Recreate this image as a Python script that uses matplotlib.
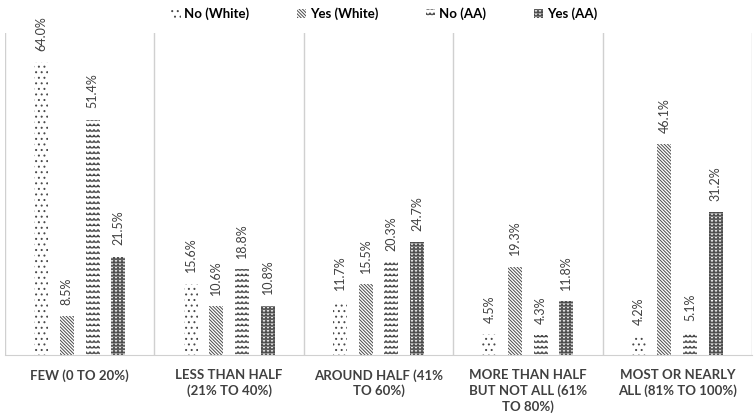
import warnings
import numpy as np
import matplotlib
matplotlib.use('Agg')
from matplotlib import pyplot as plt
import matplotlib.hatch as mhatch
from matplotlib.patches import Patch

warnings.filterwarnings('ignore')

categories = ['FEW (0 TO 20%)', 'LESS THAN HALF\n(21% TO 40%)', 'AROUND HALF (41%\nTO 60%)',
              'MORE THAN HALF\nBUT NOT ALL (61%\nTO 80%)', 'MOST OR NEARLY\nALL (81% TO 100%)']
series = ['No (White)', 'Yes (White)', 'No (AA)', 'Yes (AA)']
no_white = [64.0, 15.6, 11.7, 4.5, 4.2]
yes_white = [8.5, 10.6, 15.5, 19.3, 46.1]
no_aa = [51.4, 18.8, 20.3, 4.3, 5.1]
yes_aa = [21.5, 10.8, 24.7, 11.8, 31.2]


# zigzag hatches, matplotlib has none so add two
def make_zigzag(ch, amp, teeth_per_row):
    class ZigZag(mhatch.HatchPatternBase):
        def __init__(self, hatch, density):
            self.rows = int(hatch.count(ch) * density)
            self.n = 2 * teeth_per_row + 1
            self.num_vertices = self.rows * self.n

        def set_vertices_and_codes(self, vertices, codes):
            xs = np.linspace(0, 1, self.n)
            sign = np.where(np.arange(self.n) % 2 == 0, -1.0, 1.0)
            for r in range(self.rows):
                y0 = (r + 0.5) / self.rows
                seg = slice(r * self.n, (r + 1) * self.n)
                vertices[seg, 0] = xs
                vertices[seg, 1] = y0 + sign * amp / self.rows
                codes[seg] = mhatch.Path.LINETO
                codes[r * self.n] = mhatch.Path.MOVETO
    return ZigZag


mhatch._hatch_types.append(make_zigzag('w', 0.18, 25))
mhatch._hatch_types.append(make_zigzag('z', 0.45, 25))

hatches = ['...', '\\' * 10, 'www', 'zzzzz']
values = [no_white, yes_white, no_aa, yes_aa]

plt.rcParams['font.family'] = ['Lato', 'DejaVu Sans']
plt.rcParams['hatch.linewidth'] = 0.7

fig = plt.figure(figsize=(7.55, 4.15), dpi=100)
ax = fig.add_axes([5 / 755, 60 / 415, 747 / 755, 322 / 415])

x = np.arange(len(categories)) + 0.5
step = 0.172
w = 0.094
for k in range(4):
    pos = x + (k - 1.5) * step
    bars = ax.bar(pos, values[k], w, color='white', edgecolor='#4a4a4a',
                  linewidth=0, hatch=hatches[k])
    for b, v in zip(bars, values[k]):
        ax.annotate('%.1f%%' % v, (b.get_x() + b.get_width() / 2, v),
                    xytext=(0, 8), textcoords='offset points', rotation=90,
                    ha='center', va='bottom', fontsize=9, color='#404040',
                    annotation_clip=False)

ax.set_xlim(0, 5)
ax.set_ylim(0, 70.3)
for s in ['top', 'right', 'left']:
    ax.spines[s].set_visible(False)
ax.spines['bottom'].set_color('#d0d0d0')
for i in range(6):
    ax.axvline(i, color='#d0d0d0', lw=1)
ax.set_yticks([])
ax.set_xticks(x)
ax.set_xticklabels(categories, fontsize=9.5, fontweight='bold', color='#404040',
                   linespacing=1.3, va='top')
ax.tick_params(axis='x', length=0, pad=10)

handles = [Patch(facecolor='white', edgecolor='#4a4a4a', linewidth=0, hatch=h) for h in hatches]
fig.legend(handles, series, loc='upper center', bbox_to_anchor=(0.509, 1.01), ncol=4,
           frameon=False, handlelength=0.7, handleheight=0.7, columnspacing=3.6,
           handletextpad=0.3, prop={'weight': 'bold', 'size': 9.5})

fig.savefig('out.png', dpi=100)
